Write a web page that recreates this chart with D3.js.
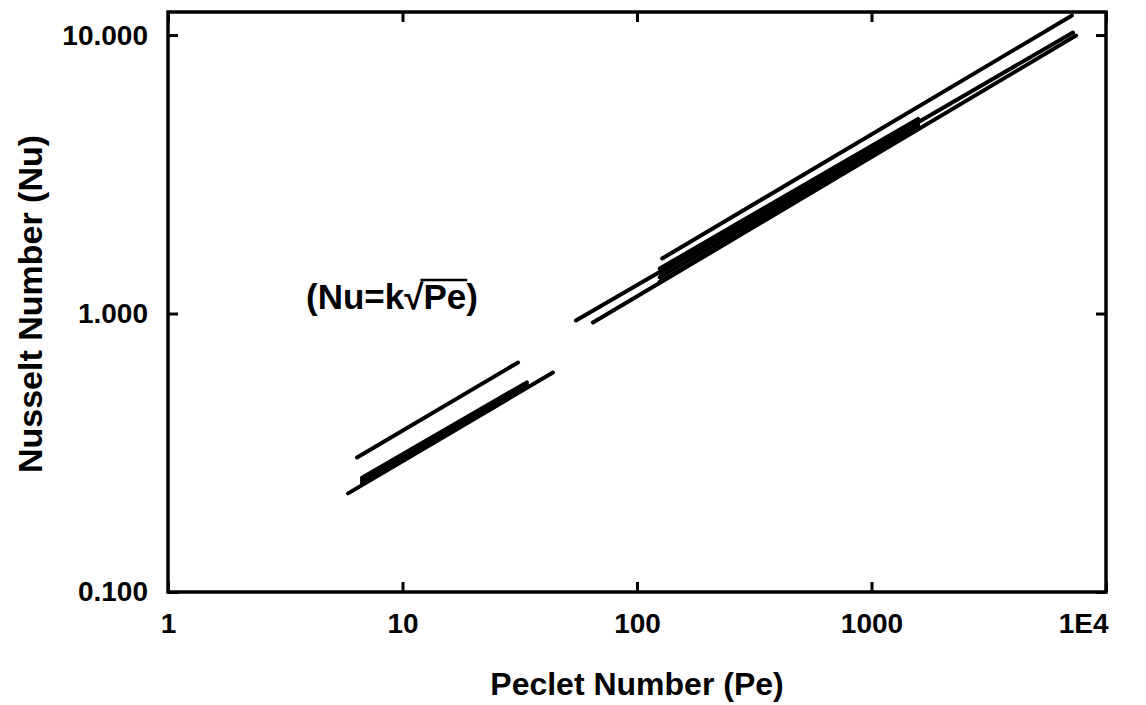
<!DOCTYPE html>
<html><head><meta charset="utf-8">
<script src="https://cdn.jsdelivr.net/npm/d3@7"></script>
<style>
body{margin:0;background:#fff;}
text{font-family:"Liberation Sans",Arial,sans-serif;font-weight:bold;fill:#000;}
</style></head>
<body><svg id="c" width="1146" height="705"></svg>
<script>
// ---- data ----
const xTicks = [1, 10, 100, 1000, 10000];
const xTickLabels = ["1", "10", "100", "1000", "1E4"];
const yTicks = [0.1, 1, 10];
const yTickLabels = ["0.100", "1.000", "10.000"];
const xDomain = [1, 10000];
const yDomain = [0.1, 12.1];

// low-Pe group
const peA = [6.40, 31.1];   const nuA = [0.304, 0.667];
const peC = [5.86, 43.8];   const nuC = [0.226, 0.614];
const peB = [6.72, 33.9];
const nuB1 = [0.247, 0.548];
const nuB2 = [0.252, 0.557];
const nuB3 = [0.257, 0.566];
// high-Pe group
const peD = [128, 7160];    const nuD = [1.576, 11.75];
const peE = [54.9, 7230];   const nuE = [0.944, 10.21];
const peF = [64.9, 7450];   const nuF = [0.928, 9.96];
const peG = [125, 1580];
const nuG1 = [1.30, 4.62];
const nuG2 = [1.35, 4.75];
const nuG3 = [1.40, 4.88];
const nuG4 = [1.45, 5.00];

const series = [
  [peA, nuA], [peC, nuC], [peB, nuB1], [peB, nuB2], [peB, nuB3],
  [peD, nuD], [peE, nuE], [peF, nuF],
  [peG, nuG1], [peG, nuG2], [peG, nuG3], [peG, nuG4]
];

// ---- layout ----
const L = 168, R = 1106, T = 12, B = 592;
const svg = d3.select("#c");
const x = d3.scaleLog().domain(xDomain).range([L, R]);
const y = d3.scaleLog().domain(yDomain).range([B, T]);

const tickLen = 10, fs = 28;

// bottom axis
const gx = svg.append("g").attr("transform", `translate(0,${B})`)
  .call(d3.axisBottom(x).tickValues(xTicks).tickSizeInner(-tickLen).tickSizeOuter(0).tickPadding(21)
    .tickFormat((d, i) => xTickLabels[i]));
// top axis (ticks only)
svg.append("g").attr("transform", `translate(0,${T})`)
  .call(d3.axisTop(x).tickValues(xTicks).tickSizeInner(-tickLen).tickSizeOuter(0).tickFormat(""));
// left axis
const gy = svg.append("g").attr("transform", `translate(${L},0)`)
  .call(d3.axisLeft(y).tickValues(yTicks).tickSizeInner(-tickLen).tickSizeOuter(0).tickPadding(20)
    .tickFormat((d, i) => yTickLabels[i]));
// right axis (ticks only)
svg.append("g").attr("transform", `translate(${R},0)`)
  .call(d3.axisRight(y).tickValues(yTicks).tickSizeInner(-tickLen).tickSizeOuter(0).tickFormat(""));

svg.selectAll(".domain").remove();
svg.selectAll(".tick line").attr("stroke", "#000").attr("stroke-width", 3);
svg.selectAll(".tick text").style("font-size", fs + "px").style("font-family", '"Liberation Sans",Arial,sans-serif').style("font-weight", "bold");
gx.selectAll(".tick text").filter((d) => d === 10000).attr("text-anchor", "end").attr("x", 2);

// frame
svg.append("rect").attr("x", L).attr("y", T).attr("width", R - L).attr("height", B - T)
  .attr("fill", "none").attr("stroke", "#000").attr("stroke-width", 3.5);

// data lines
const line = d3.line().x(d => x(d[0])).y(d => y(d[1]));
svg.append("g").selectAll("path").data(series).join("path")
  .attr("d", s => line(d3.zip(s[0], s[1])))
  .attr("fill", "none").attr("stroke", "#000").attr("stroke-width", 4)
  .attr("stroke-linecap", "round");

// axis titles
svg.append("text").attr("x", (L + R) / 2).attr("y", 695).attr("text-anchor", "middle")
  .style("font-size", "32px").text("Peclet Number (Pe)");
svg.append("text").attr("transform", `translate(42,${(T + B) / 2 + 2}) rotate(-90)`).attr("text-anchor", "middle")
  .style("font-size", "34px").text("Nusselt Number (Nu)");

// annotation (Nu=k√Pe)
const af = "35px", ax = 306, ay = 309;
const ann = svg.append("g");
const a1 = ann.append("text").attr("x", ax).attr("y", ay).style("font-size", af).text("(Nu=k√");
const w1 = a1.node().getComputedTextLength();
const a2 = ann.append("text").attr("x", ax + w1).attr("y", ay).style("font-size", af).text("Pe");
const w2 = a2.node().getComputedTextLength();
ann.append("text").attr("x", ax + w1 + w2).attr("y", ay).style("font-size", af).text(")");
ann.append("line").attr("x1", ax + w1 - 3).attr("x2", ax + w1 + w2 + 1)
  .attr("y1", 280).attr("y2", 280).attr("stroke", "#000").attr("stroke-width", 2.5);
</script></body></html>
